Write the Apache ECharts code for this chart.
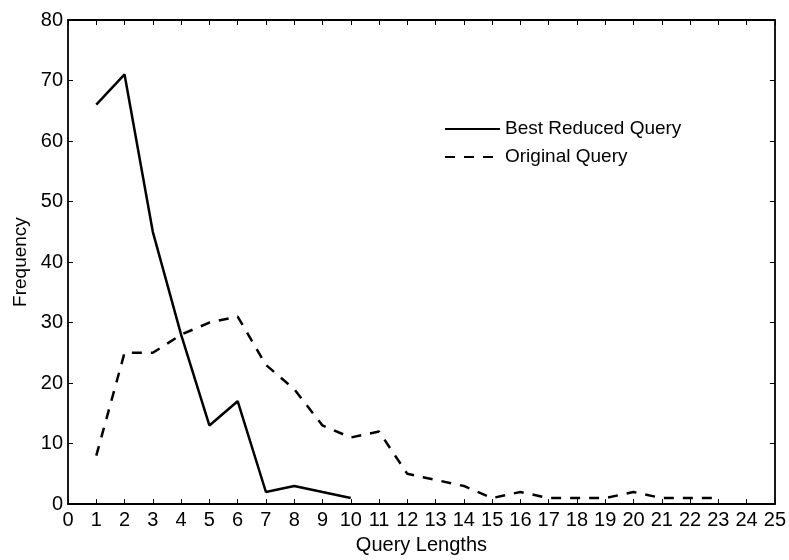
<!DOCTYPE html>
<html>
<head>
<meta charset="utf-8">
<script src="https://cdn.jsdelivr.net/npm/echarts@6/dist/echarts.min.js"></script>
<style>
  html, body { margin: 0; padding: 0; background: #fff; }
  #chart { width: 789px; height: 560px; }
</style>
</head>
<body>
<div id="chart"></div>
<script>
// Query length distributions
const bestLengths = [1, 2, 3, 4, 5, 6, 7, 8, 9, 10];
const bestFreq = [66, 71, 45, 28, 13, 17, 2, 3, 2, 1];
const origLengths = [1, 2, 3, 4, 5, 6, 7, 8, 9, 10, 11, 12, 13, 14, 15, 16, 17, 18, 19, 20, 21, 22, 23];
const origFreq = [8, 25, 25, 28, 30, 31, 23, 19, 13, 11, 12, 5, 4, 3, 1, 2, 1, 1, 1, 2, 1, 1, 1];
const seriesNames = ['Best Reduced Query', 'Original Query'];

const FONT = 'Liberation Sans, Arial, Helvetica, sans-serif';
const axisLine = { show: true, onZero: false, lineStyle: { color: '#000', width: 1.8 } };
const tick = { show: true, inside: true, length: 5, lineStyle: { color: '#000', width: 1 } };
const dash = [10, 9];

const chart = echarts.init(document.getElementById('chart'), null, { renderer: 'canvas' });
chart.setOption({
  animation: false,
  backgroundColor: '#fff',
  grid: { left: 68, right: 14, top: 20, bottom: 52 },
  legend: {
    orient: 'vertical',
    left: 444, top: 119, padding: 0,
    itemWidth: 55, itemHeight: 20, itemGap: 8,
    itemStyle: { opacity: 0 },
    textStyle: { fontFamily: FONT, fontSize: 19, lineHeight: 20, color: '#000' },
    data: seriesNames.map(n => ({ name: n }))
  },
  xAxis: [{
    type: 'value', min: 0, max: 25, interval: 1,
    name: 'Query Lengths', nameLocation: 'middle', nameGap: 30,
    nameTextStyle: { fontFamily: FONT, fontSize: 20, color: '#000' },
    axisLine, axisTick: tick, splitLine: { show: false },
    axisLabel: { fontFamily: FONT, fontSize: 20, color: '#000', margin: 6 }
  }, {
    type: 'value', min: 0, max: 25, interval: 1, position: 'top',
    axisLine, axisTick: tick, axisLabel: { show: false }, splitLine: { show: false }
  }],
  yAxis: [{
    type: 'value', min: 0, max: 80, interval: 10,
    name: 'Frequency', nameLocation: 'middle', nameGap: 34,
    nameTextStyle: { fontFamily: FONT, fontSize: 19, color: '#000' },
    axisLine, axisTick: tick, splitLine: { show: false },
    axisLabel: { fontFamily: FONT, fontSize: 20, color: '#000', margin: 5 }
  }, {
    type: 'value', min: 0, max: 80, interval: 10, position: 'right',
    axisLine, axisTick: tick, axisLabel: { show: false }, splitLine: { show: false }
  }],
  series: [{
    name: seriesNames[0], type: 'line', symbol: 'none',
    data: bestLengths.map((x, i) => [x, bestFreq[i]]),
    lineStyle: { color: '#000', width: 2.5, type: 'solid' },
    itemStyle: { color: '#000' }
  }, {
    name: seriesNames[1], type: 'line', symbol: 'none',
    data: origLengths.map((x, i) => [x, origFreq[i]]),
    lineStyle: { color: '#000', width: 2.5, type: dash },
    itemStyle: { color: '#000' }
  }]
});
</script>
</body>
</html>
